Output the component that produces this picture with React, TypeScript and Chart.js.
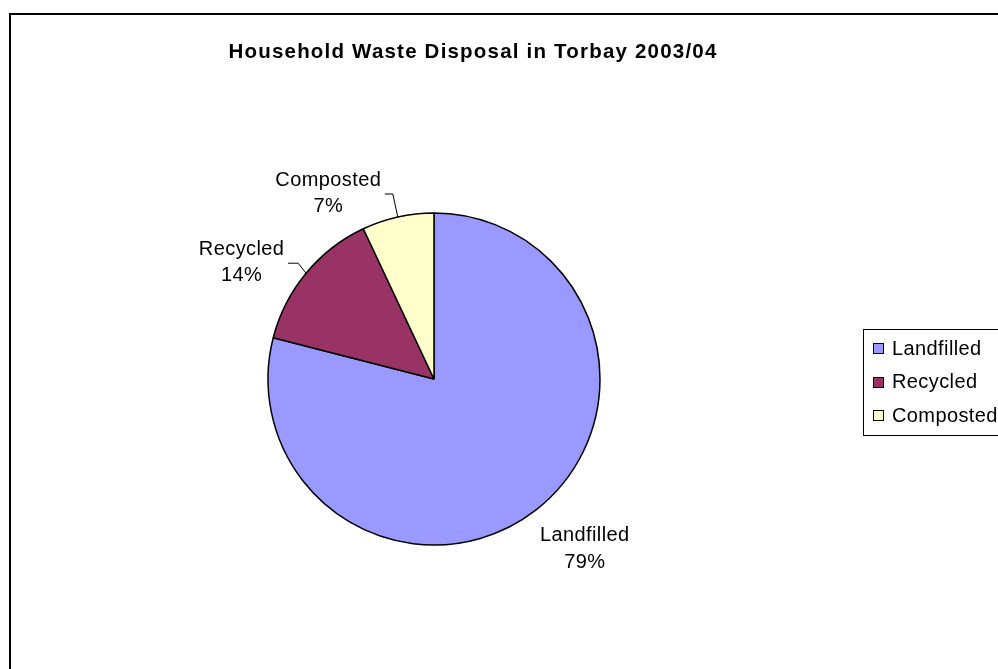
import React, { useEffect, useRef } from "react";
import { Chart, registerables } from "chart.js";

Chart.register(...registerables);

const TITLE = "Household Waste Disposal in Torbay 2003/04";
const categories = ["Landfilled", "Recycled", "Composted"];
const values = [79, 14, 7];
const colors = ["#9999FF", "#993366", "#FFFFCC"];

const FONT = '"Liberation Sans", Arial, sans-serif';

// label layout (relative to slice mid-point on the outer edge)
const labelLayout = [
  { dx: 49, dy: 39, lineH: 27, leader: false, elbowDx: 0, elbowDy: 0, stubDx: 0 },
  { dx: -64.5, dy: -11, lineH: 26, leader: true, elbowDx: -8, elbowDy: -10, stubDx: -10 },
  { dx: -69.5, dy: -24, lineH: 26, leader: true, elbowDx: -5, elbowDy: -23, stubDx: -8 },
];

const overlayPlugin = {
  id: "overlay",
  afterDraw(chart: any) {
    const ctx = chart.ctx as CanvasRenderingContext2D;
    ctx.save();
    // frame
    ctx.strokeStyle = "#000";
    ctx.lineWidth = 2;
    ctx.strokeRect(10, 14, 1200, 1000);

    // title
    ctx.fillStyle = "#000";
    ctx.font = `bold 20.5px ${FONT}`;
    (ctx as any).letterSpacing = "1.2px";
    ctx.textAlign = "center";
    ctx.textBaseline = "alphabetic";
    ctx.fillText(TITLE, 473, 58);
    (ctx as any).letterSpacing = "0.4px";

    // data labels
    const meta = chart.getDatasetMeta(0);
    const total = values.reduce((a, b) => a + b, 0);
    ctx.font = `20px ${FONT}`;
    ctx.textBaseline = "middle";
    meta.data.forEach((arc: any, i: number) => {
      const { x, y, startAngle, endAngle, outerRadius } = arc.getProps(
        ["x", "y", "startAngle", "endAngle", "outerRadius"],
        true
      );
      const mid = (startAngle + endAngle) / 2;
      const ex = x + Math.cos(mid) * outerRadius;
      const ey = y + Math.sin(mid) * outerRadius;
      const L = labelLayout[i];
      const cx = ex + L.dx;
      const cy = ey + L.dy;
      const pct = Math.round((values[i] / total) * 100) + "%";
      ctx.fillStyle = "#000";
      ctx.textAlign = "center";
      ctx.fillText(categories[i], cx, cy - L.lineH / 2);
      ctx.fillText(pct, cx, cy + L.lineH / 2);
      if (L.leader) {
        ctx.strokeStyle = "#000";
        ctx.lineWidth = 1;
        ctx.beginPath();
        const bx = ex + L.elbowDx;
        const by = ey + L.elbowDy;
        ctx.moveTo(bx + L.stubDx, by);
        ctx.lineTo(bx, by);
        ctx.lineTo(ex, ey);
        ctx.stroke();
      }
    });

    // legend
    ctx.strokeStyle = "#000";
    ctx.lineWidth = 1;
    ctx.strokeRect(863.5, 329.5, 300, 106);
    ctx.textAlign = "left";
    ctx.textBaseline = "middle";
    categories.forEach((c, i) => {
      const yc = 348 + i * 33.5;
      ctx.fillStyle = colors[i];
      ctx.fillRect(873, Math.round(yc - 5), 10, 10);
      ctx.strokeStyle = "#000";
      ctx.strokeRect(873.5, Math.round(yc - 5) + 0.5, 10, 10);
      ctx.fillStyle = "#000";
      ctx.fillText(c, 892, yc + 1);
    });
    ctx.restore();
  },
};

export default function App() {
  const ref = useRef<HTMLCanvasElement | null>(null);
  useEffect(() => {
    if (!ref.current) return;
    const chart = new Chart(ref.current, {
      type: "pie",
      data: {
        labels: categories,
        datasets: [
          {
            data: values,
            backgroundColor: colors,
            borderColor: "#000",
            borderWidth: 1.5,
          },
        ],
      },
      options: {
        responsive: false,
        animation: false,
        radius: 166,
        layout: { padding: { left: 268, right: 398, top: 213, bottom: 124 } },
        plugins: {
          legend: { display: false },
          title: { display: false },
          tooltip: { enabled: false },
        },
      } as any,
      plugins: [overlayPlugin],
    });
    return () => chart.destroy();
  }, []);
  return (
    <div style={{ position: "fixed", left: 0, top: 0, width: 998, height: 669, background: "#fff" }}>
      <canvas ref={ref} width={998} height={669} style={{ display: "block" }} />
    </div>
  );
}
